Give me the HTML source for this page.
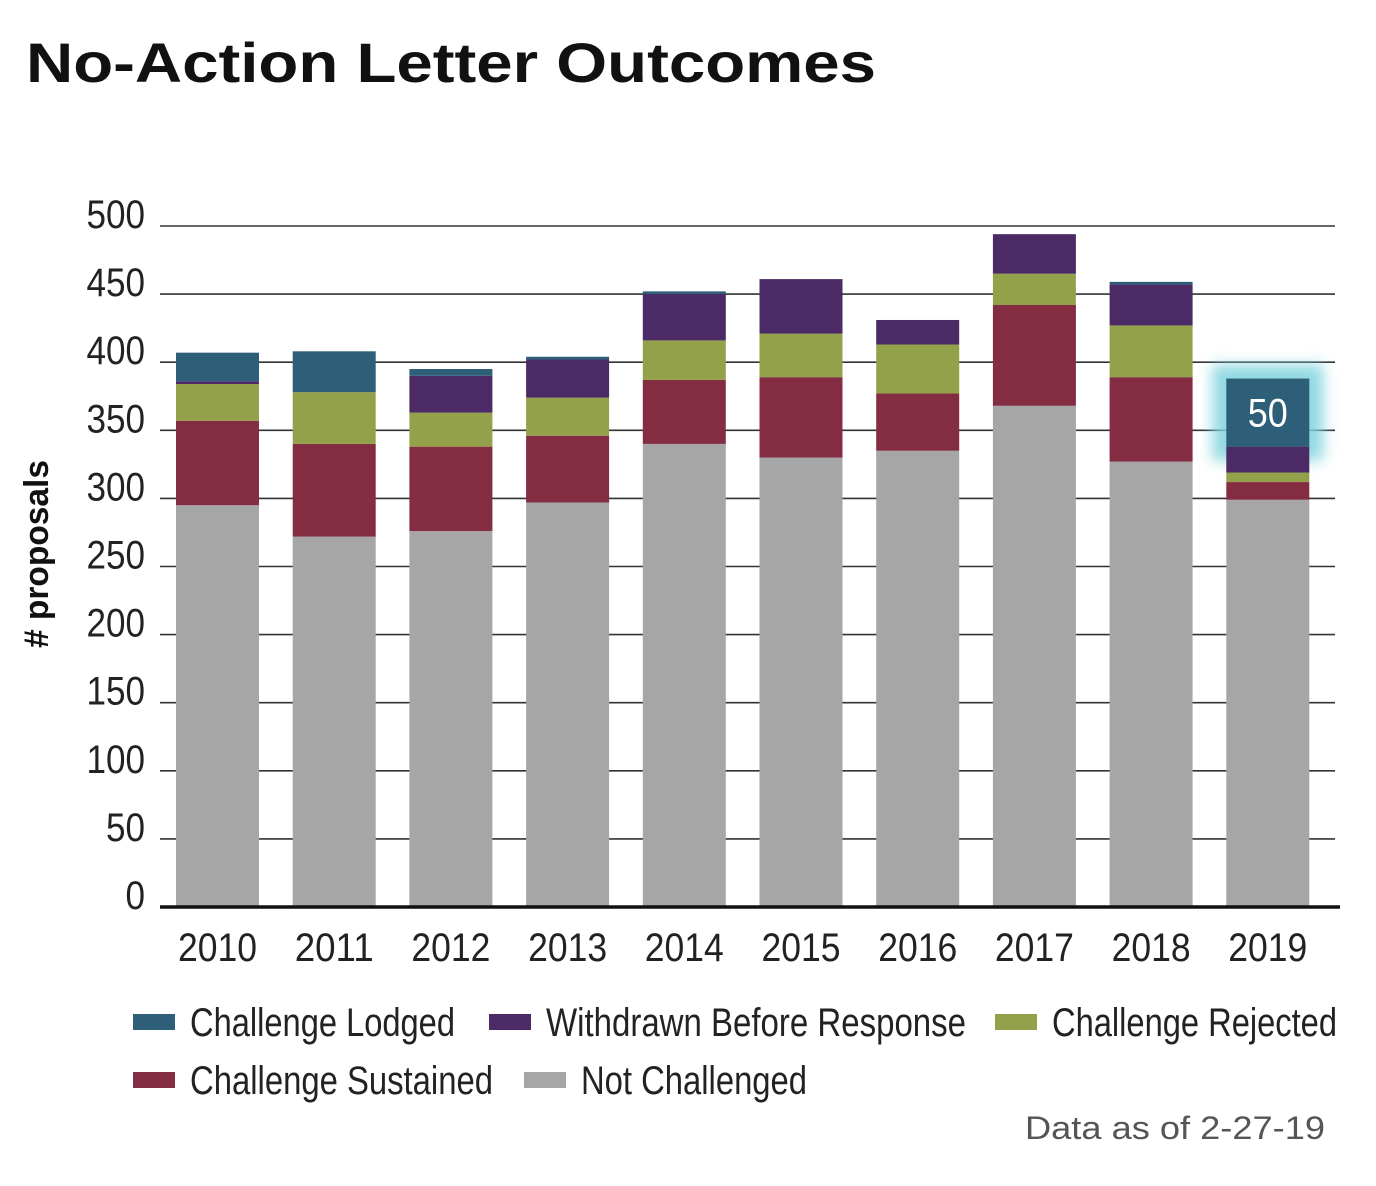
<!DOCTYPE html>
<html><head><meta charset="utf-8"><style>
body{margin:0;background:#fff;}
svg{display:block;}
.t{font-family:"Liberation Sans Narrow","Liberation Sans",sans-serif;fill:#222;}
</style></head><body>
<svg id="c" width="1376" height="1186" xmlns="http://www.w3.org/2000/svg">
<defs>
<filter id="glow" x="-40%" y="-40%" width="180%" height="180%"><feGaussianBlur stdDeviation="7"/></filter>
</defs>
<text x="26" y="82" textLength="850" lengthAdjust="spacingAndGlyphs" font-family="Liberation Sans, sans-serif" font-weight="bold" font-size="56" fill="#111">No-Action Letter Outcomes</text>
<g id="grid"></g>
<g id="bars"></g>
<text transform="translate(48,554) rotate(-90)" text-anchor="middle" textLength="188" lengthAdjust="spacingAndGlyphs" font-family="Liberation Sans, sans-serif" font-weight="bold" font-size="34" fill="#111"># proposals</text>
<g id="legend"></g>
<text x="1025" y="1139" textLength="300" lengthAdjust="spacingAndGlyphs" font-family="Liberation Sans, sans-serif" font-size="32" fill="#555">Data as of 2-27-19</text>
</svg>
<script>
const years=["2010","2011","2012","2013","2014","2015","2016","2017","2018","2019"];
const notChallenged=[295,272,276,297,340,330,335,368,327,299];
const sustained=[62,68,62,49,47,59,42,74,62,13];
const rejected=[27,38,25,28,29,32,36,23,38,7];
const withdrawn=[2,0,27,28,34,40,18,29,30,19];
const lodged=[21,30,5,2,2,0,0,0,2,50];
const yTicks=[0,50,100,150,200,250,300,350,400,450,500];
const seriesNames=["Not Challenged","Challenge Sustained","Challenge Rejected","Withdrawn Before Response","Challenge Lodged"];
const colors=["#a6a6a6","#832c42","#93a24a","#4b2a66","#2e5f78"];
const series=[notChallenged,sustained,rejected,withdrawn,lodged];
const NS="http://www.w3.org/2000/svg";
const y0=907,pxPer=681/500,x0=176,step=116.7,bw=83;
const Y=v=>y0-v*pxPer, X=i=>x0+i*step;
function mk(t,a,p){const e=document.createElementNS(NS,t);for(const k in a)e.setAttribute(k,a[k]);p.appendChild(e);return e;}
const grid=document.getElementById('grid');
yTicks.forEach(v=>{
 if(v>0){const l=mk('line',{x1:160,x2:1335,y1:Y(v),y2:Y(v),stroke:'#333','stroke-width':1.6},grid);
 
 }
 const s=String(v);
 const t=mk('text',{x:145,y:Y(v)+2,'text-anchor':'end','font-size':40,class:'t',textLength:s.length*19.5,lengthAdjust:'spacingAndGlyphs'},grid);t.textContent=s;
 
 
});
const bars=document.getElementById('bars');
years.forEach((yr,i)=>{
 let cum=0;
 if(i===years.length-1){
  const tot=series.reduce((a,s)=>a+s[i],0);
  const lv=lodged[i];
  const g=mk('rect',{x:X(i)-14,y:Y(tot)-14,width:bw+28,height:lv*pxPer+28,fill:'#7fd3dd',opacity:0.85,filter:'url(#glow)'},bars);
  
  
 }
 series.forEach((s,k)=>{
  const v=s[i];if(v<=0){return;}
  const r=mk('rect',{x:X(i),y:Y(cum+v),width:bw,height:v*pxPer,fill:colors[k]},bars);
  
  
  if(k===4&&i===years.length-1){
   const t=mk('text',{x:X(i)+bw/2,y:Y(cum+v/2)+14,'text-anchor':'middle','font-size':40,class:'t',style:'fill:#fff',textLength:40,lengthAdjust:'spacingAndGlyphs'},bars);t.textContent=v;
   
   
  }
  cum+=v;
 });
 const t=mk('text',{x:X(i)+bw/2,y:961,'text-anchor':'middle','font-size':40,class:'t',textLength:79,lengthAdjust:'spacingAndGlyphs'},bars);t.textContent=yr;
 
 
});
const ax=mk('line',{x1:160,x2:1340,y1:y0,y2:y0,stroke:'#111','stroke-width':3.5},bars);


const leg=[[4,133,1022,265],[3,489,1022,420],[2,995,1022,285],[1,133,1080,303],[0,524,1080,226]];
const lg=document.getElementById('legend');
leg.forEach(([k,x,y,w])=>{
 const g=mk('g',{},lg);
 
 
 mk('rect',{x:x,y:y-8,width:42,height:16,fill:colors[k]},g);
 const t=mk('text',{x:x+57,y:y+14,'font-size':40,class:'t',textLength:w,lengthAdjust:'spacingAndGlyphs'},g);t.textContent=seriesNames[k];
});
</script>
</body></html>
